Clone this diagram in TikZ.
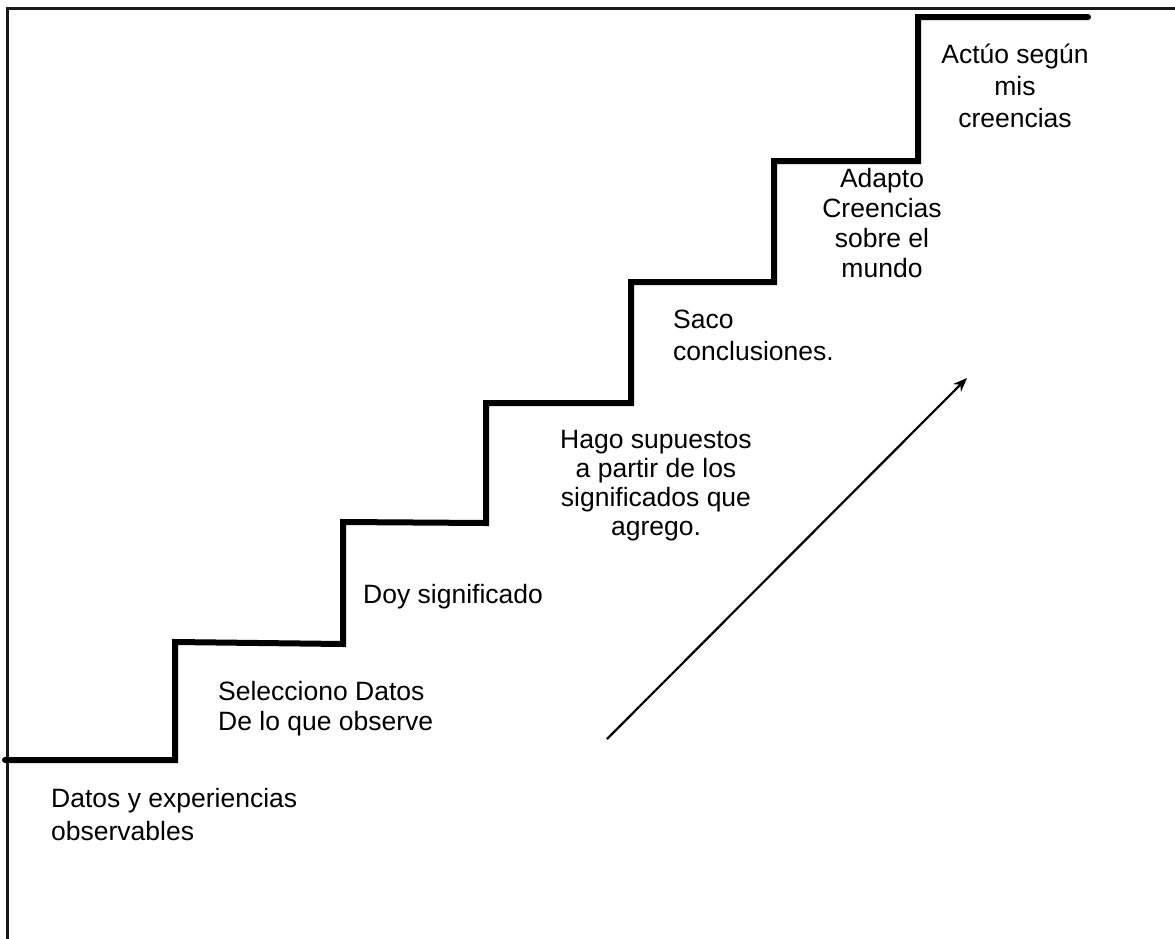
\documentclass[tikz,border=0pt]{standalone}
\usepackage{fontspec}
\setmainfont{Liberation Sans}
\usetikzlibrary{arrows.meta}
\begin{document}
\begin{tikzpicture}[x=1pt,y=-1pt,
  frameline/.style={line width=3pt,draw=black!90},
  stair/.style={line width=6pt,line cap=round,line join=miter},
  label/.style={inner sep=0pt,font=\fontsize{26.5}{30}\selectfont},
  arrowline/.style={line width=2.2pt,-{Stealth[length=14pt,width=11pt]}}]
\useasboundingbox (0,0) rectangle (1175,938);
% frame
\draw[frameline] (7,940) -- (7,8) -- (1177,8);
% staircase
\draw[stair] (5,760) -- (175,760) -- (175,642) -- (343,644) -- (343,522)
  -- (486,523) -- (486,403) -- (631,403) -- (631,282) -- (774,282)
  -- (774,161) -- (918,161) -- (918,17) -- (1088,17);
% arrow
\coordinate (a1) at (607,739);
\coordinate (a2) at (967,378);
\draw[arrowline] (a1) -- (a2);
% labels (base anchor = baseline of the last line)
\node[label,anchor=base west,align=left,font=\fontsize{26.5}{33}\selectfont] (t1) at (51,840) {Datos y experiencias\\observables};
\node[label,anchor=base west,align=left] (t2) at (218,730) {Selecciono Datos\\De lo que observe};
\node[label,anchor=base west] (t3) at (363,603) {Doy significado};
\node[label,anchor=base,align=center,font=\fontsize{26.5}{29}\selectfont] (t4) at (656,535) {Hago supuestos\\a partir de los\\significados que\\agrego.};
\node[label,anchor=base west,align=left,font=\fontsize{26.5}{32}\selectfont] (t5) at (673,360) {Saco\\conclusiones.};
\node[label,anchor=base,align=center] (t6) at (882,277) {Adapto\\Creencias\\sobre el\\mundo};
\node[label,anchor=base,align=center,font=\fontsize{26.5}{32}\selectfont] (t7) at (1015,127) {Actúo según\\mis\\creencias};
\end{tikzpicture}
\end{document}
